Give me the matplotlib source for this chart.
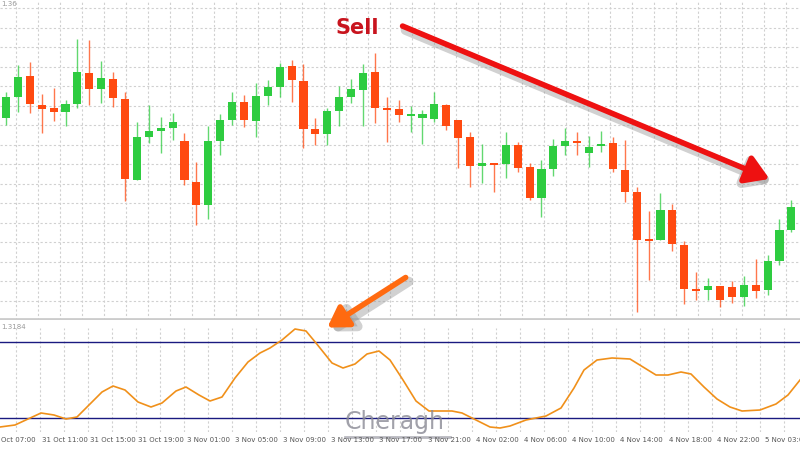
import matplotlib
matplotlib.use("Agg")
import matplotlib.pyplot as plt
import numpy as np

# candle data (price scale in chart units, larger = lower on screen; axis inverted)
opens = [118,97,76,105,108,112,104,73,89,79,99,180,137,131,128,141,182,205,141,120,102,121,96,87,66,81,129,134,111,97,90,72,108,
         109,115,118,119,105,120,137,166,163,164,145,167,198,169,146,141,153,146,143,170,192,239,240,210,245,289,290,286,287,297,285,290,261,230]
closes = [97,77,104,109,112,104,72,89,78,98,179,137,131,128,122,180,205,141,120,102,120,96,87,67,80,129,134,111,97,89,73,108,110,
          115,114,114,104,126,138,166,163,164,145,168,198,169,146,141,141,147,144,169,192,240,240,210,244,289,290,286,300,297,285,291,261,230,207]
highs = [92,65,62,94,88,100,39,40,61,72,92,122,105,117,113,133,162,126,114,92,95,83,80,63,60,64,118,108,86,79,64,53,97,
         100,106,110,92,104,120,132,144,163,132,142,163,160,139,128,132,136,131,137,140,187,211,193,204,241,272,278,286,281,276,259,255,219,200]
lows = [125,112,113,133,121,126,108,105,103,107,201,180,143,153,140,185,225,219,155,125,127,137,105,97,102,148,145,145,126,103,126,123,142,
        122,132,144,122,130,168,187,183,192,178,172,200,217,176,155,155,167,152,172,202,312,280,240,251,304,300,300,307,303,306,298,295,265,232]

# oscillator: time position (chart pixel units) and level (chart pixel units, converted below)
osc_t = [0,15,41,54,66,77,102,113,125,138,151,162,176,186,199,210,222,235,248,260,270,282,295,306,316,332,343,355,367,379,390,403,416,429,452,462,474,490,500,510,526,546,561,574,584,597,612,630,643,656,668,681,691,704,717,730,742,760,776,788,800]
osc_y = [427,425,413,415,419,417,392,386,390,402,407,403,391,387,395,401,397,378,362,353,348,340,329,331,343,363,368,364,354,351,360,380,401,411,411,413,419,427,428,426,420,416,408,388,370,360,358,359,367,375,375,372,374,387,399,407,411,410,404,395,380]

ticklabels = ["31 Oct 11:00","31 Oct 15:00","31 Oct 19:00","3 Nov 01:00","3 Nov 05:00","3 Nov 09:00",
              "3 Nov 13:00","3 Nov 17:00","3 Nov 21:00","4 Nov 02:00","4 Nov 06:00","4 Nov 10:00",
              "4 Nov 14:00","4 Nov 18:00","4 Nov 22:00","5 Nov 03:00"]

SP = 11.9
def px2i(x):
    return (np.asarray(x, dtype=float) - 6) / SP
def y2v(y):
    return 20 + (418 - np.asarray(y, dtype=float)) / (76 / 60)

W, H = 800, 450
fig = plt.figure(figsize=(8, 4.5), dpi=100)
fig.patch.set_facecolor("white")
XL = (float(px2i(0)), float(px2i(800)))

ax = fig.add_axes([0, 1 - 320 / H, 1, 320 / H])
ax.set_xlim(*XL)
ax.set_ylim(320, 0)
up = "#2ecc40"; dn = "#ff4a10"
for i, (o, c, h, l) in enumerate(zip(opens, closes, highs, lows)):
    col = up if c < o else dn
    ax.vlines(i, h, l, color=col, lw=1, alpha=0.75, zorder=2)
    ax.bar(i, abs(c - o) if abs(c - o) > 1.5 else 2, bottom=min(o, c), width=0.68, color=col, zorder=3)
ax.set_yticks(np.arange(8, 320, 19.5))
ax.set_xticks(np.arange(px2i(16), XL[1], 22 / SP))
ax.grid(True, color="#d0d0d0", ls=(0, (2, 2)), lw=0.8)
ax.tick_params(left=False, bottom=False, labelleft=False, labelbottom=False)
for s in ax.spines.values():
    s.set_visible(False)
ax.axhline(319, color="#cccccc", lw=2)

bx = fig.add_axes([0, 18 / H, 1, 104 / H])
bx.set_xlim(*XL)
bx.set_ylim(float(y2v(432)), float(y2v(328)))
bx.plot(px2i(osc_t), y2v(osc_y), color="#f0901a", lw=1.2, zorder=3)
bx.axhline(80, color="#1a1a80", lw=1)
bx.axhline(20, color="#1a1a80", lw=1)
bx.set_xticks(np.arange(px2i(16), XL[1], 24 / SP))
bx.set_yticks([])
bx.grid(True, axis="x", color="#d0d0d0", ls=(0, (2, 2)), lw=0.8)
bx.tick_params(left=False, bottom=False, labelleft=False, labelbottom=False)
for s in bx.spines.values():
    s.set_visible(False)

tick_px = [42 + 48.2 * k for k in range(len(ticklabels))]
for xp, lab in zip(tick_px, ticklabels):
    fig.text(xp / W, 1 - 440 / H, lab, fontsize=5, color="#555555", ha="left", va="center")
fig.text(1 / W, 1 - 440 / H, "Oct 07:00", fontsize=5, color="#555555", ha="left", va="center")
fig.text(1 / W, 1 - 4 / H, "1.36", fontsize=5, color="#999999", ha="left", va="center")
fig.text(1 / W, 1 - 327 / H, "1.3184", fontsize=5, color="#999999", ha="left", va="center")

def fp(x, y):
    return (x / W, 1 - y / H)

for (s, e, col, lw, hw) in [((400, 25), (772, 180), "#ee1111", 4, 14), ((408, 276), (325, 329), "#ff6a10", 4, 12)]:
    shadow_s = (s[0] + 3, s[1] + 4); shadow_e = (e[0] + 3, e[1] + 4)
    fig.add_artist(matplotlib.patches.FancyArrowPatch(fp(*shadow_s), fp(*shadow_e), transform=fig.transFigure,
                   arrowstyle=f"-|>,head_length={hw/10},head_width={hw/16}", lw=lw + 3, color="#999999", alpha=0.45,
                   mutation_scale=10))
    fig.add_artist(matplotlib.patches.FancyArrowPatch(fp(*s), fp(*e), transform=fig.transFigure,
                   arrowstyle=f"-|>,head_length={hw/10},head_width={hw/16}", lw=lw, color=col, mutation_scale=10))

fig.text(357 / W, 1 - 28 / H, "Sell", fontsize=15, fontweight="bold", color="#c8141e", ha="center", va="center")
fig.text(395 / W, 1 - 422 / H, "Cheragh", fontsize=17, color="#8a8a95", alpha=0.8, ha="center", va="center")
fig.add_artist(plt.Line2D([345 / W, 450 / W], [1 - 437 / H] * 2, color="#8a8a95", lw=2, alpha=0.6))

fig.savefig("out.png", dpi=100)
